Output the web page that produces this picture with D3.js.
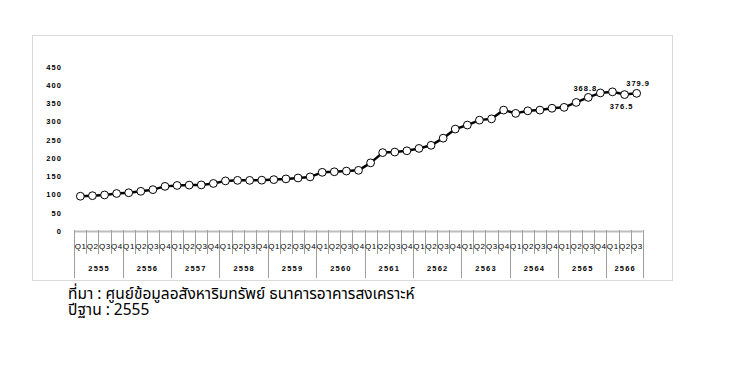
<!DOCTYPE html>
<html>
<head>
<meta charset="utf-8">
<script src="https://cdn.jsdelivr.net/npm/d3@7"></script>
<style>
  html, body { margin: 0; padding: 0; background: #fff; }
  svg { display: block; }
</style>
</head>
<body>
<svg id="chart" width="730" height="368"></svg>
<script>
const quarters = ["Q1", "Q2", "Q3", "Q4"];
const years = ["2555","2556","2557","2558","2559","2560","2561","2562","2563","2564","2565","2566"];
const values = [
  98, 99.5, 101.5, 105.5,
  107.5, 111.5, 116, 125,
  127.5, 128.5, 129, 133,
  140, 141.5, 141.5, 142,
  143.5, 145.5, 148, 151,
  163.5, 165, 167, 169,
  189.5, 217.5, 219, 222.5,
  229, 237.5, 257, 282,
  293, 306.5, 310, 334,
  325, 332, 334, 339,
  341.5, 355, 368.8, 381,
  384, 376.5, 379.9
];
const yTicks = [0, 50, 100, 150, 200, 250, 300, 350, 400, 450];
const labeledIndex = [42, 45, 46];
const labeledText = ["368.8", "376.5", "379.9"];
const sourceLines = ["ที่มา : ศูนย์ข้อมูลอสังหาริมทรัพย์ ธนาคารอาคารสงเคราะห์", "ปีฐาน : 2555"];

const periods = values.map((v, i) => ({
  i, v,
  q: quarters[i % 4],
  y: years[Math.floor(i / 4)]
}));

const svg = d3.select("#chart");
const numFont = "'Liberation Sans', Arial, sans-serif";

svg.append("rect")
  .attr("x", 32.5).attr("y", 35.5)
  .attr("width", 640).attr("height", 245)
  .attr("fill", "#fff").attr("stroke", "#d9d9d9").attr("stroke-width", 1);

const x = d3.scaleBand().domain(periods.map(d => d.i)).range([74.3, 642.7]).paddingInner(0).paddingOuter(0);
const y = d3.scaleLinear().domain([0, 450]).range([232, 67.75]);
const cx = i => x(i) + x.bandwidth() / 2;

const yAxis = d3.axisLeft(y).tickValues(yTicks).tickSize(0).tickPadding(0);
const gy = svg.append("g").attr("transform", "translate(62,-1)").call(yAxis);
gy.select(".domain").remove();
gy.selectAll("text")
  .attr("font-family", numFont).attr("font-size", "7.5px").attr("font-weight", "bold")
  .attr("letter-spacing", "1.1px").attr("fill", "#000");

svg.append("line")
  .attr("x1", 74.3).attr("x2", 642.7)
  .attr("y1", 231.5).attr("y2", 231.5)
  .attr("stroke", "#bdbdbd").attr("stroke-width", 2);

const bounds = d3.range(0, periods.length + 1);
svg.append("g").selectAll("line").data(bounds).join("line")
  .attr("x1", d => Math.round(d < periods.length ? x(d) : x(periods.length - 1) + x.bandwidth()) + 0.5)
  .attr("x2", d => Math.round(d < periods.length ? x(d) : x(periods.length - 1) + x.bandwidth()) + 0.5)
  .attr("y1", 230)
  .attr("y2", d => (d % 4 === 0 || d === periods.length) ? 278 : 254)
  .attr("stroke", "#9e9e9e").attr("stroke-width", 1);

svg.append("g").selectAll("text").data(periods).join("text")
  .attr("x", d => cx(d.i) + 0.3)
  .attr("y", 246)
  .attr("text-anchor", "middle").attr("dominant-baseline", "central")
  .attr("font-family", numFont).attr("font-size", "8px")
  .attr("letter-spacing", "0.6px")
  .text(d => d.q);

const yearGroups = d3.groups(periods, d => d.y);
svg.append("g").selectAll("text").data(yearGroups).join("text")
  .attr("x", g => (x(g[1][0].i) + x(g[1][g[1].length - 1].i) + x.bandwidth()) / 2 + 0.6)
  .attr("y", 268)
  .attr("text-anchor", "middle").attr("dominant-baseline", "central")
  .attr("font-family", numFont).attr("font-size", "7.5px").attr("font-weight", "bold")
  .attr("letter-spacing", "1.2px")
  .text(g => g[0]);

const line = d3.line().x(d => cx(d.i)).y(d => y(d.v));
svg.append("path").datum(periods)
  .attr("d", line).attr("fill", "none")
  .attr("stroke", "#000").attr("stroke-width", 2.5).attr("stroke-linejoin", "round");

svg.append("g").selectAll("circle").data(periods).join("circle")
  .attr("cx", d => cx(d.i)).attr("cy", d => y(d.v)).attr("r", 3.9)
  .attr("fill", "#fff").attr("stroke", "#000").attr("stroke-width", 1);

const labelOffset = [-9, 12, -10];
svg.append("g").selectAll("text").data(labeledIndex).join("text")
  .attr("x", (d, k) => cx(d) + (k === 2 ? 1.5 : -3))
  .attr("y", (d, k) => y(values[d]) + labelOffset[k])
  .attr("text-anchor", "middle").attr("dominant-baseline", "central")
  .attr("font-family", numFont).attr("font-size", "7.5px").attr("font-weight", "bold")
  .attr("letter-spacing", "1px")
  .text((d, k) => labeledText[k]);

svg.append("g").selectAll("text").data(sourceLines).join("text")
  .attr("x", 68).attr("y", (d, k) => 299 + k * 15.5)
  .attr("font-family", "Tahoma, 'Leelawadee UI', 'Noto Sans Thai', 'DejaVu Sans', sans-serif")
  .attr("font-size", "15.5px").attr("fill", "#000")
  .text(d => d);
</script>
</body>
</html>
